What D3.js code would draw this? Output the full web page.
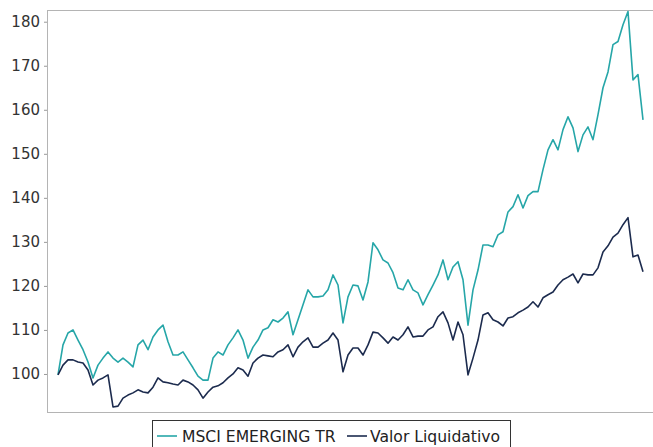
<!DOCTYPE html>
<html>
<head>
<meta charset="utf-8">
<script src="https://cdn.jsdelivr.net/npm/d3@7"></script>
<style>
  html, body { margin: 0; padding: 0; background: #ffffff; }
  svg { display: block; font-family: "DejaVu Sans", sans-serif; }
</style>
</head>
<body>
<svg id="chart" width="653" height="447"></svg>
<script>
const seriesNames = ["MSCI EMERGING TR", "Valor Liquidativo"];
const seriesColors = ["#26a6a8", "#1c2b4e"];
const yTicks = [100, 110, 120, 130, 140, 150, 160, 170, 180];

const msci = [
  99.8,106.6,109.3,110.0,107.7,105.5,102.7,99.1,102.0,103.6,
  105.0,103.6,102.7,103.6,102.7,101.6,106.6,107.7,105.5,108.4,
  110.0,111.1,107.3,104.3,104.3,105.0,103.2,101.4,99.5,98.6,
  98.6,103.6,105.0,104.3,106.6,108.2,110.0,107.7,103.6,106.1,
  107.7,110.0,110.5,112.3,111.8,112.7,114.1,108.9,112.3,115.7,
  119.1,117.5,117.5,117.7,119.1,122.5,120.2,111.6,117.5,120.2,
  120.0,116.8,120.9,129.8,128.2,125.9,125.2,123.0,119.5,119.1,
  121.4,119.1,118.4,115.7,118.0,120.2,122.5,125.9,121.4,124.3,
  125.5,121.4,111.1,119.1,123.6,129.3,129.3,128.9,131.6,132.3,
  136.8,138.0,140.7,137.7,140.5,141.4,141.4,146.4,150.9,153.2,
  150.9,155.5,158.4,155.9,150.5,154.3,156.1,153.2,158.9,165.0,
  168.6,174.8,175.5,179.3,182.3,166.8,168.0,157.7
];

const valor = [
  99.8,102.0,103.2,103.2,102.7,102.5,100.9,97.5,98.6,99.1,
  99.8,92.5,92.7,94.5,95.2,95.7,96.4,95.9,95.7,97.0,
  99.1,98.2,98.0,97.7,97.5,98.6,98.2,97.5,96.4,94.5,
  95.9,97.0,97.3,98.0,99.1,100.0,101.4,100.9,99.5,102.5,
  103.6,104.3,104.1,103.9,105.0,105.5,106.6,103.9,106.1,107.3,
  108.2,106.1,106.1,107.0,107.7,109.3,107.7,100.5,104.3,105.9,
  105.9,104.3,106.6,109.5,109.3,108.2,107.0,108.4,107.7,108.9,
  110.7,108.4,108.6,108.6,110.0,110.7,113.0,114.1,111.6,107.7,
  111.8,108.9,99.8,103.6,107.7,113.4,113.9,112.3,111.8,110.9,
  112.7,113.0,113.9,114.5,115.2,116.4,115.2,117.3,118.0,118.6,
  120.2,121.4,122.0,122.7,120.7,122.7,122.5,122.5,124.1,127.7,
  129.1,131.1,132.0,133.9,135.5,126.6,127.0,123.2
];

const svg = d3.select("#chart");
const W = 653, H = 447;
const plot = { left: 47, top: 10, right: 660, bottom: 412 };

const y = d3.scaleLinear().domain([91.36, 182.66]).range([plot.bottom, plot.top]);
const x = d3.scaleLinear().domain([0, msci.length - 1]).range([58, 643]);

// plot frame
svg.append("rect")
  .attr("x", plot.left + 0.5).attr("y", plot.top + 0.5)
  .attr("width", plot.right - plot.left).attr("height", plot.bottom - plot.top)
  .attr("fill", "none").attr("stroke", "#b4b4b4").attr("stroke-width", 1);

// y axis
const yAxis = d3.axisLeft(y).tickValues(yTicks).tickSize(3).tickPadding(4).tickFormat(d3.format("d"));
const gy = svg.append("g").attr("transform", `translate(${plot.left},0)`).call(yAxis);
gy.select(".domain").remove();
gy.selectAll(".tick line").attr("stroke", "#999");
gy.selectAll(".tick text").attr("fill", "#333").style("font-size", "15px").style("font-family", "DejaVu Sans");

// lines
const line = d3.line().x((d, i) => x(i)).y(d => y(d));
svg.append("g").attr("clip-path", null);
[msci, valor].forEach((s, i) => {
  svg.append("path").datum(s)
    .attr("d", line)
    .attr("fill", "none")
    .attr("stroke", seriesColors[i])
    .attr("stroke-width", 1.6)
    .attr("stroke-linejoin", "round");
});

// legend
const lg = svg.append("g");
lg.append("rect").attr("x", 152.5).attr("y", 420.5).attr("width", 358).attr("height", 40)
  .attr("fill", "#fff").attr("stroke", "#333").attr("stroke-width", 1);
const legendItems = [
  { lineX: 157, textX: 182 },
  { lineX: 347, textX: 370 }
];
seriesNames.forEach((name, i) => {
  lg.append("line").attr("x1", legendItems[i].lineX).attr("x2", legendItems[i].lineX + 20)
    .attr("y1", 436).attr("y2", 436)
    .attr("stroke", seriesColors[i]).attr("stroke-width", 1.6);
  lg.append("text").attr("x", legendItems[i].textX).attr("y", 442)
    .attr("fill", "#222").style("font-size", "15.6px").text(name);
});
</script>
</body>
</html>
